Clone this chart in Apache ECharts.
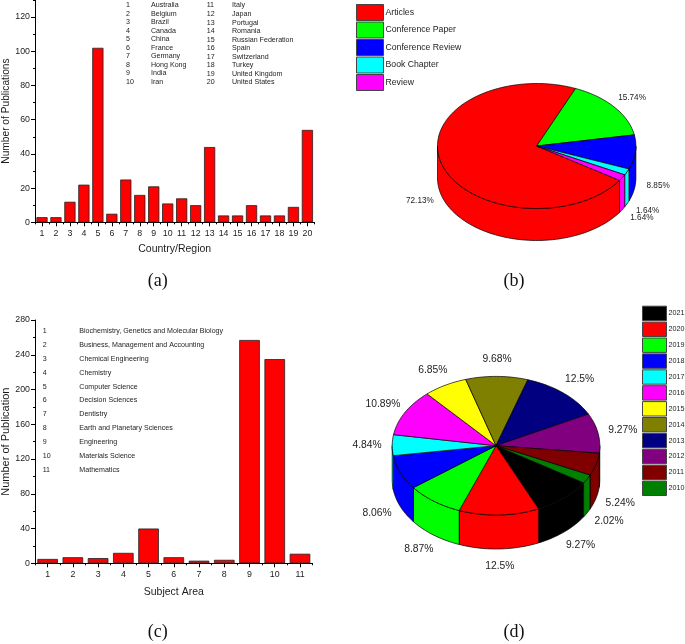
<!DOCTYPE html>
<html>
<head>
<meta charset="utf-8">
<style>html,body{margin:0;padding:0;background:#fff}#c{width:685px;height:644px}</style>
<script src="https://cdn.jsdelivr.net/npm/echarts@6/dist/echarts.min.js"></script>
</head>
<body>
<div id="c"></div>
<script>
const countryTicks = ['1','2','3','4','5','6','7','8','9','10','11','12','13','14','15','16','17','18','19','20'];
const countryValues = [3,3,12,22,102,5,25,16,21,11,14,10,44,4,4,10,4,4,9,54];
const countryNames = ['Australia','Belgium','Brazil','Canada','China','France','Germany','Hong Kong','India','Iran','Italy','Japan','Portugal','Romania','Russian Federation','Spain','Switzerland','Turkey','United Kingdom','United States'];
const subjectTicks = ['1','2','3','4','5','6','7','8','9','10','11'];
const subjectValues = [5,7,6,12,40,7,3,4,257,235,11];
const subjectNames = ['Biochemistry, Genetics and Molecular Biology','Business, Management and Accounting','Chemical Engineering','Chemistry','Computer Science','Decision Sciences','Dentistry','Earth and Planetary Sciences','Engineering','Materials Science','Mathematics'];
const docTypes = ['Articles','Conference Paper','Conference Review','Book Chapter','Review'];
const docShares = [72.13,15.74,8.85,1.64,1.64];
const docColors = ['#ff0000','#00ff00','#0000ff','#00ffff','#ff00ff'];
const years = ['2021','2020','2019','2018','2017','2016','2015','2014','2013','2012','2011','2010'];
const yearShares = [9.27,12.5,8.87,8.06,4.84,10.89,6.85,9.68,12.5,9.27,5.24,2.02];
const yearColors = ['#000000','#ff0000','#00ff00','#0000ff','#00ffff','#ff00ff','#ffff00','#808000','#000080','#800080','#800000','#008000'];
const panelLetters = ['(a)','(b)','(c)','(d)'];

const SANS = '"Liberation Sans", Arial, sans-serif';
const INK = '#1c1c1c';

// Extruded pie: every slice angle comes from the shares above.
function pieSeries(names, shares, colors, g) {
  const total = shares.reduce((a, b) => a + b, 0);
  let acc = 0;
  const D = Math.PI / 180;
  const px = (t, r, s) => [g.cx + r * Math.sin(t * D), g.cy - s * Math.cos(t * D)];
  const arc = (a, b, ox) => {
    const pts = [], n = Math.max(2, Math.ceil((b - a) / 2));
    for (let i = 0; i <= n; i++) {
      const p = px(a + (b - a) * i / n, g.rx, g.ry);
      pts.push([p[0], p[1] + ox]);
    }
    return pts;
  };
  return names.map((name, i) => {
    const a0 = g.start + acc / total * 360;
    acc += shares[i];
    const a1 = g.start + acc / total * 360;
    const line = { stroke: '#000', lineWidth: 0.7 };
    return {
      type: 'custom',
      name: name,
      coordinateSystem: 'none',
      silent: true,
      itemStyle: { color: colors[i], borderColor: '#444', borderWidth: 1 },
      data: [[shares[i]]],
      renderItem: function () {
        const kids = [];
        [[90, 270], [450, 630]].forEach(function (w) {
          const s = Math.max(a0, w[0]), e = Math.min(a1, w[1]);
          if (e > s) {
            const up = arc(s, e, 0), down = arc(s, e, g.depth).reverse();
            kids.push({ type: 'polygon', shape: { points: up.concat(down) }, style: Object.assign({ fill: colors[i] }, line) });
          }
        });
        kids.push({ type: 'polygon', shape: { points: [[g.cx, g.cy]].concat(arc(a0, a1, 0)) }, style: Object.assign({ fill: colors[i] }, line) });
        const mid = (a0 + a1) / 2;
        const lp = px(mid, g.lx, g.ly);
        const lower = Math.cos(mid * D) < 0;
        kids.push({
          type: 'text',
          style: { text: shares[i] + '%', x: lp[0], y: lp[1] + (lower ? g.depth : 0), align: 'center', verticalAlign: 'middle', fill: INK, font: g.font }
        });
        return { type: 'group', children: kids };
      }
    };
  });
}

function columnText(list, x0, x1, y0, dy) {
  const out = [];
  list.forEach(function (t, i) {
    const y = y0 + dy * i;
    out.push({ type: 'text', x: x0, y: y, style: { text: String(i + 1 + (list.offset || 0)), fill: INK, font: '7.1px ' + SANS, verticalAlign: 'middle' } });
    out.push({ type: 'text', x: x1, y: y, style: { text: t, fill: INK, font: '7.1px ' + SANS, verticalAlign: 'middle' } });
  });
  return out;
}

const firstHalf = countryNames.slice(0, 10);
const secondHalf = countryNames.slice(10); secondHalf.offset = 10;

function letter(t, x, y) {
  return { type: 'text', x: x, y: y, style: { text: t, fill: '#111', font: '18px "Liberation Serif", serif', align: 'center', verticalAlign: 'middle' } };
}

const axisLine = { show: true, lineStyle: { color: '#000', width: 1 } };
function xMain(grid, ticks, name, margin, gap) {
  return { type: 'category', gridIndex: grid, position: 'bottom', data: ticks, name: name, nameLocation: 'middle', nameGap: gap,
    nameTextStyle: { fontFamily: SANS, fontSize: 10.5, color: INK },
    axisLine: axisLine, axisTick: { show: true, alignWithLabel: true, length: 4, lineStyle: { color: '#000' } },
    axisLabel: { interval: 0, margin: margin, fontFamily: SANS, fontSize: 8.8, color: INK }, splitLine: { show: false } };
}
function xMinor(grid, ticks) {
  return { type: 'category', gridIndex: grid, position: 'bottom', data: ticks,
    axisLine: { show: false }, axisTick: { show: true, interval: 0, alignWithLabel: false, length: 2, lineStyle: { color: '#000' } },
    axisLabel: { show: false }, splitLine: { show: false } };
}
function yAxis(grid, max, interval, name, fontSize, gap, pad) {
  return { type: 'value', gridIndex: grid, min: 0, max: max, interval: interval, name: name, nameLocation: 'middle', nameGap: gap,
    nameTextStyle: { fontFamily: SANS, fontSize: fontSize, color: INK, padding: pad },
    axisLine: axisLine, axisTick: { show: true, length: 4, lineStyle: { color: '#000' } },
    minorTick: { show: true, splitNumber: 2, length: 2, lineStyle: { color: '#000' } },
    axisLabel: { margin: 5, fontFamily: SANS, fontSize: 8.8, color: INK, showMaxLabel: grid === 1 },
    splitLine: { show: false }, minorSplitLine: { show: false } };
}
function bars(values, x, y, width) {
  return { type: 'bar', xAxisIndex: x, yAxisIndex: y, data: values, barWidth: width, silent: true,
    itemStyle: { color: '#ff0000', borderColor: '#222', borderWidth: 0.8 } };
}

const pieB = { cx: 536.7, cy: 146, rx: 99.2, ry: 62.5, depth: 32, start: 123.4, lx: 122, ly: 78, font: '8.2px ' + SANS };
const pieD = { cx: 496, cy: 445.7, rx: 103.8, ry: 69.3, depth: 34, start: 122.4, lx: 129, ly: 87, font: '10.3px ' + SANS };

function legendOf(names, colors, left, top, w, h, gap, fs) {
  return { left: left, top: top, orient: 'vertical', padding: 0, itemWidth: w, itemHeight: h, itemGap: gap, icon: 'rect', selectedMode: false,
    textStyle: { fontFamily: SANS, fontSize: fs, color: INK, padding: [0, 0, 0, -3] },
    data: names.map(function (n, i) { return { name: n, icon: 'rect', itemStyle: { color: colors[i], borderColor: '#444', borderWidth: 1 } }; }) };
}

const chart = echarts.init(document.getElementById('c'), null, { renderer: 'canvas', width: 685, height: 644 });
chart.setOption({
  animation: false,
  backgroundColor: '#fff',
  grid: [
    { left: 35, top: -17.2, width: 279.4, height: 239.5, outerBoundsMode: 'none', containLabel: false },
    { left: 35, top: 320, width: 277.6, height: 243.3, outerBoundsMode: 'none', containLabel: false }
  ],
  xAxis: [
    xMain(0, countryTicks, 'Country/Region', 6.5, 21),
    xMinor(0, countryTicks),
    xMain(1, subjectTicks, 'Subject Area', 7, 23),
    xMinor(1, subjectTicks)
  ],
  yAxis: [
    yAxis(0, 140, 20, 'Number of Publications', 10.2, 24, [0, 17, 0, 0]),
    yAxis(1, 280, 40, 'Number of Publication', 11, 24, 0)
  ],
  legend: [
    legendOf(docTypes, docColors, 356, 4, 27, 16, 0.5, 8.7),
    legendOf(years, yearColors, 642, 305.7, 24, 14.4, 0.5, 7.2)
  ],
  graphic: [].concat(
    columnText(firstHalf, 126, 151, 5, 8.55),
    columnText(secondHalf, 206.7, 232, 5.5, 8.55),
    columnText(subjectNames, 42.7, 79.3, 331.3, 13.83),
    [letter(panelLetters[0], 157.7, 281), letter(panelLetters[1], 514, 281), letter(panelLetters[2], 157.7, 632), letter(panelLetters[3], 514, 632)]
  ),
  series: [
    bars(countryValues, 0, 0, 11.2),
    bars(subjectValues, 2, 1, 20.6)
  ].concat(pieSeries(docTypes, docShares, docColors, pieB), pieSeries(years, yearShares, yearColors, pieD))
});
</script>
</body>
</html>
